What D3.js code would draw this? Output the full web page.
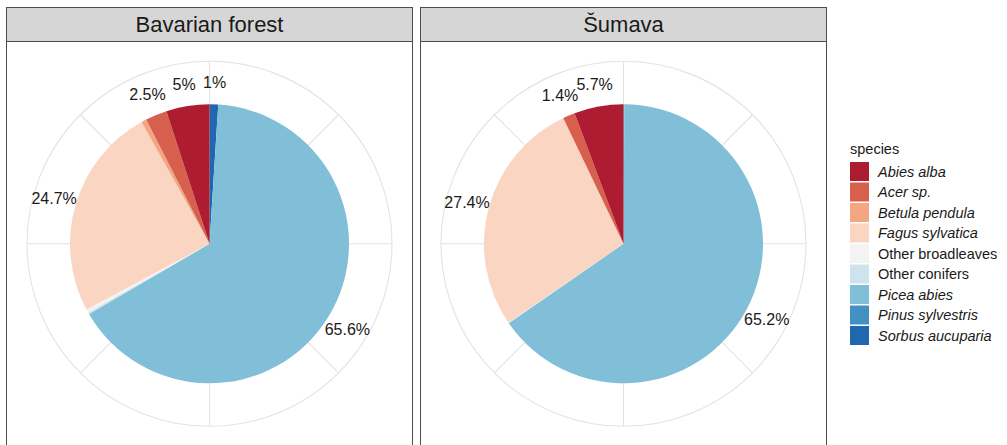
<!DOCTYPE html>
<html lang="en">
<head>
<meta charset="UTF-8">
<title>Tree species share</title>
<script src="https://d3js.org/d3.v7.min.js"></script>
<style>
    body { margin: 0; background: #fff; font-family: "Liberation Sans", Arial, sans-serif; }
    svg { display: block; }
</style>
</head>
<body>
<div id="chart"></div>
<script>
// data, legend order
var species = ["Abies alba", "Acer sp.", "Betula pendula", "Fagus sylvatica", "Other broadleaves",
               "Other conifers", "Picea abies", "Pinus sylvestris", "Sorbus aucuparia"];
var italicName = [true, true, true, true, false, false, true, true, true];
var colors = ["#ae1c32", "#d6604d", "#f4a582", "#fad5c2", "#f3f3f3",
              "#cfe3ee", "#81bfd9", "#4291c2", "#1f68b0"];
var regions = ["Bavarian forest", "Šumava"];
var bavarian = [5.0, 2.5, 0.6, 24.7, 0.4, 0.2, 65.6, 0.0, 1.0];
var sumava = [5.7, 1.4, 0.0, 27.4, 0.0, 0.1, 65.2, 0.1, 0.0];
var shares = [bavarian, sumava];

var w = 1007, h = 445;
var panelW = 406, stripH = 34;
var panelX = [6, 420];
var pieR = 139.5, gridR = 182.5, labelR = 162;
var cy = 243.8;

var color = d3.scaleOrdinal().domain(species).range(colors);

var svg = d3.select('#chart').append('svg')
    .attr('width', w)
    .attr('height', h);

var pie = d3.pie()
    .sort(null)
    .value(function(d){ return d.value; });

var arc = d3.arc().innerRadius(0).outerRadius(pieR);
var labelArc = d3.arc().innerRadius(labelR).outerRadius(labelR);

regions.forEach(function(name, p){
    var x0 = panelX[p];
    var g = svg.append('g').attr('transform', 'translate(' + x0 + ',0)');

    // panel box
    g.append('rect')
        .attr('x', 0.5).attr('y', 7.5)
        .attr('width', panelW).attr('height', 460)
        .attr('fill', 'none').attr('stroke', '#4d4d4d').attr('stroke-width', 1);

    // strip
    g.append('rect')
        .attr('x', 0.5).attr('y', 7.5)
        .attr('width', panelW).attr('height', stripH)
        .attr('fill', '#d6d6d6').attr('stroke', '#4d4d4d').attr('stroke-width', 1);
    g.append('text')
        .attr('x', panelW / 2 + 0.5)
        .attr('y', 7.5 + stripH / 2)
        .attr('dy', '0.36em')
        .attr('text-anchor', 'middle')
        .attr('font-size', '22px')
        .attr('fill', '#1a1a1a')
        .text(name);

    var c = g.append('g').attr('transform', 'translate(' + (panelW / 2 + 0.5) + ',' + cy + ')');

    // polar grid
    c.append('circle')
        .attr('r', gridR)
        .attr('fill', 'none').attr('stroke', '#e3e3e3').attr('stroke-width', 1.1);
    c.selectAll('line.spoke')
        .data(d3.range(0, 360, 45))
        .enter().append('line')
        .attr('class', 'spoke')
        .attr('x1', 0).attr('y1', 0)
        .attr('x2', function(a){ return gridR * Math.sin(a * Math.PI / 180); })
        .attr('y2', function(a){ return -gridR * Math.cos(a * Math.PI / 180); })
        .attr('stroke', '#e3e3e3').attr('stroke-width', 1.1);

    // slices go clockwise from the top, in reverse legend order
    var rows = species.map(function(s, i){ return {species: s, value: shares[p][i]}; }).reverse();
    var arcs = pie(rows);

    c.selectAll('path.slice')
        .data(arcs)
        .enter().append('path')
        .attr('class', 'slice')
        .attr('d', arc)
        .attr('fill', function(d){ return color(d.data.species); });

    c.selectAll('text.lab')
        .data(arcs.filter(function(d){ return d.data.value >= 1; }))
        .enter().append('text')
        .attr('class', 'lab')
        .attr('transform', function(d){ return 'translate(' + labelArc.centroid(d) + ')'; })
        .attr('dy', '0.36em')
        .attr('text-anchor', 'middle')
        .attr('font-size', '16px')
        .attr('fill', '#1a1a1a')
        .text(function(d){ return (+d.data.value.toFixed(1)) + '%'; });
});

// legend
var lg = svg.append('g').attr('transform', 'translate(850,0)');
lg.append('text')
    .attr('x', 0).attr('y', 154)
    .attr('font-size', '14.5px')
    .attr('fill', '#1a1a1a')
    .text('species');

var item = lg.selectAll('g.item')
    .data(species)
    .enter().append('g')
    .attr('class', 'item')
    .attr('transform', function(d, i){ return 'translate(0,' + (162 + i * 20.5) + ')'; });
item.append('rect')
    .attr('width', 19).attr('height', 19)
    .attr('fill', function(d){ return color(d); });
item.append('text')
    .attr('x', 28).attr('y', 9.5)
    .attr('dy', '0.36em')
    .attr('font-size', '14.5px')
    .attr('fill', '#1a1a1a')
    .attr('font-style', function(d, i){ return italicName[i] ? 'italic' : 'normal'; })
    .text(function(d){ return d; });
</script>
</body>
</html>
